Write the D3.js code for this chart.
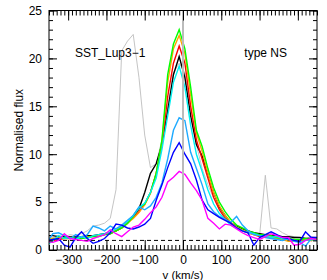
<!DOCTYPE html>
<html>
<head>
<meta charset="utf-8">
<script src="https://cdn.jsdelivr.net/npm/d3@7"></script>
<style>
  body { margin: 0; background: #fff; }
  svg text { font-family: "Liberation Sans", Arial, sans-serif; }
</style>
</head>
<body>
<div id="chart"></div>
<script>

// Velocity grid (km/s)
const velocity = [-355, -340, -325, -310, -295, -280, -265, -250, -235, -220, -205, -190,
    -175, -160, -145, -130, -115, -100, -85, -70, -55, -40, -25, -10, 5, 20, 35, 50,
    65, 80, 95, 110, 125, 140, 155, 170, 185, 200, 215, 230, 245, 260, 275, 290,
    305, 320, 335, 350];

// Normalised flux per profile
const grayFlux = [1.2, 1.3, 1.5, 1.4, 1.6, 1.5, 1.7, 2.0, 2.5, 2.6, 2.8, 3.3,
    6.3, 20.8, 21.8, 22.5, 18.0, 12.0, 8.6, 9.0, 11.5, 15.0, 18.5, 19.5, 18.5, 15.0, 11.0, 8.5,
    6.8, 5.4, 4.3, 3.4, 2.9, 2.5, 2.2, 2.0, 1.7, 1.5, 7.8, 2.3, 2.2, 1.8, 1.5, 1.4,
    1.3, 1.2, 1.4, 1.3];
const blackFlux = [1.5, 1.5, 1.4, 1.4, 1.4, 1.4, 1.4, 1.5, 1.5, 1.6, 1.7, 1.8,
    2.0, 2.3, 2.8, 3.5, 4.3, 6.0, 8.0, 9.0, 11.0, 14.5, 18.3, 20.2, 18.0, 14.0, 11.0, 9.8,
    7.9, 6.0, 4.5, 3.6, 2.8, 2.5, 2.2, 2.0, 1.8, 1.7, 1.6, 1.5, 1.5, 1.4, 1.4, 1.3,
    1.3, 1.2, 1.2, 1.2];
const redFlux = [1.1, 1.0, 1.1, 1.2, 1.2, 1.3, 1.3, 1.3, 1.5, 1.5, 1.6, 1.7,
    2.0, 2.4, 2.9, 3.4, 4.0, 4.8, 6.0, 8.0, 11.0, 16.0, 19.5, 21.3, 19.5, 15.0, 11.5, 9.5,
    7.5, 5.5, 4.2, 3.3, 2.7, 2.3, 2.0, 1.8, 1.6, 1.4, 1.4, 1.3, 1.2, 1.2, 1.1, 1.1,
    1.0, 1.1, 1.0, 1.1];
const orangeFlux = [1.2, 1.2, 1.3, 1.2, 1.3, 1.3, 1.2, 1.4, 1.4, 1.5, 1.6, 1.8,
    2.0, 2.3, 2.8, 3.3, 3.9, 4.7, 5.9, 8.0, 11.3, 17.5, 21.0, 22.4, 20.5, 16.2, 12.2, 10.3,
    8.0, 6.0, 4.6, 3.6, 2.9, 2.4, 2.1, 1.8, 1.6, 1.5, 1.4, 1.3, 1.2, 1.1, 0.9, 0.9,
    1.0, 1.1, 1.0, 1.1];
const greenFlux = [1.0, 1.1, 1.2, 1.3, 1.2, 1.3, 1.2, 1.3, 1.4, 1.4, 1.6, 1.7,
    2.0, 2.3, 2.8, 3.5, 4.4, 4.8, 6.0, 8.0, 11.5, 18.3, 21.5, 23.0, 21.0, 17.0, 12.5, 10.8,
    8.5, 6.5, 5.0, 4.0, 3.2, 2.6, 2.3, 2.0, 1.8, 1.6, 1.6, 1.5, 1.3, 1.2, 1.2, 1.1,
    1.1, 1.2, 1.1, 1.2];
const cyanFlux = [0.5, 1.0, 1.5, 1.2, 1.3, 1.1, 1.4, 1.2, 1.5, 1.6, 1.7, 1.9,
    2.2, 2.5, 3.0, 3.6, 4.4, 4.9, 6.0, 7.5, 10.5, 14.0, 17.5, 19.2, 17.0, 13.0, 10.0, 8.2,
    6.3, 4.8, 3.8, 3.2, 2.6, 2.3, 2.0, 1.8, 1.7, 1.5, 1.5, 1.3, 1.4, 1.2, 1.1, 1.0,
    0.8, 1.0, 1.1, 1.0];
const skyFlux = [0.8, 1.7, 1.8, 1.5, 1.2, 1.6, 1.3, 1.6, 2.5, 2.3, 2.0, 2.5,
    2.2, 2.6, 3.1, 3.6, 4.5, 4.2, 4.6, 5.5, 7.0, 9.5, 12.5, 13.8, 13.5, 10.2, 8.5, 6.8,
    4.8, 4.0, 3.5, 3.2, 2.9, 3.5, 2.6, 2.0, 1.6, 1.5, 1.3, 1.2, 1.1, 1.0, 1.2, 0.9,
    0.8, 0.4, 1.2, 1.0];
const blueFlux = [1.0, 1.1, 1.2, 0.5, 0.3, 1.3, 1.9, 1.2, 0.7, 0.9, 1.2, 1.8,
    2.7, 2.6, 2.3, 2.2, 2.4, 2.7, 3.3, 5.2, 6.8, 8.6, 10.2, 11.2, 10.0, 9.0, 7.3, 5.2,
    4.2, 3.8, 3.4, 3.1, 2.8, 2.3, 2.0, 1.8, 0.5, 1.3, 1.6, 1.9, 1.6, 1.3, 1.2, 1.0,
    0.9, 1.9, 1.3, 1.3];
const magentaFlux = [0.9, 0.8, 1.0, 1.7, 1.2, 1.1, 1.0, 0.9, 1.2, 1.4, 1.6, 2.1,
    1.7, 1.4, 1.9, 2.4, 2.6, 3.2, 3.9, 4.5, 5.5, 7.1, 7.6, 8.2, 7.9, 7.0, 6.2, 5.2,
    3.3, 2.8, 2.2, 2.7, 2.6, 2.2, 1.8, 1.5, 1.3, 1.1, 1.4, 1.7, 1.5, 1.3, 1.3, 0.5,
    0.6, 1.0, 1.2, 1.1];

const profiles = [
    {name: 'black',   color: '#000000', flux: blackFlux},
    {name: 'red',     color: '#ff0000', flux: redFlux},
    {name: 'orange',  color: '#ffa500', flux: orangeFlux},
    {name: 'green',   color: '#00ff00', flux: greenFlux},
    {name: 'cyan',    color: '#00f0f0', flux: cyanFlux},
    {name: 'sky',     color: '#1eaaff', flux: skyFlux},
    {name: 'blue',    color: '#0000ff', flux: blueFlux},
    {name: 'magenta', color: '#ff00ff', flux: magentaFlux}
];

const xMajorTicks = [-300, -200, -100, 0, 100, 200, 300];
const yMajorTicks = [0, 5, 10, 15, 20, 25];
const baseline = 1;
const objectName = 'SST_Lup3\u22121';
const typeLabel = 'type NS';

const width = 327, height = 280;
const margin = {top: 10.5, right: 10, bottom: 30, left: 49};

const svg = d3.select('#chart')
    .append('svg')
        .attr('width', width)
        .attr('height', height);

const x = d3.scaleLinear()
    .domain([-350, 350])
    .range([margin.left, width - margin.right]);

const y = d3.scaleLinear()
    .domain([0, 25])
    .range([height - margin.bottom, margin.top]);

const line = d3.line()
    .x((d, i) => x(velocity[i]))
    .y(d => y(d));

const plot = svg.append('g');

// clip to the frame
svg.append('clipPath').attr('id', 'clip')
    .append('rect')
        .attr('x', x(-350)).attr('y', y(25))
        .attr('width', x(350) - x(-350)).attr('height', y(0) - y(25));
plot.attr('clip-path', 'url(#clip)');

// Gray comparison profile
plot.append('path')
    .attr('d', line(grayFlux))
    .attr('fill', 'none')
    .attr('stroke', '#bdbdbd')
    .attr('stroke-width', 0.9);

// Baseline at flux = 1
plot.append('line')
    .attr('x1', x(-350)).attr('x2', x(350))
    .attr('y1', y(baseline)).attr('y2', y(baseline))
    .attr('stroke', '#000')
    .attr('stroke-width', 1)
    .attr('stroke-dasharray', '4,3');

plot.selectAll('path.profile')
    .data(profiles)
    .enter().append('path')
        .attr('class', 'profile')
        .attr('d', d => line(d.flux))
        .attr('fill', 'none')
        .attr('stroke', d => d.color)
        .attr('stroke-width', 1.4)
        .attr('stroke-linejoin', 'miter');

// Zero velocity line
plot.append('line')
    .attr('x1', x(0)).attr('x2', x(0))
    .attr('y1', y(0)).attr('y2', y(25))
    .attr('stroke', '#bbbbbb')
    .attr('stroke-width', 2);

// Axes: ticks point inward
const xMinor = d3.range(-350, 351, 10);
const yMinor = d3.range(0, 26, 1);

function noDomain(g) { g.select('.domain').remove(); }

svg.append('g')
    .attr('transform', 'translate(0,' + y(0) + ')')
    .call(d3.axisBottom(x).tickValues(xMinor).tickSize(-5).tickFormat(''))
    .call(noDomain);
svg.append('g')
    .attr('class', 'x axis')
    .attr('transform', 'translate(0,' + y(0) + ')')
    .call(d3.axisBottom(x).tickValues(xMajorTicks).tickSize(-10).tickPadding(5.5))
    .call(noDomain);
svg.append('g')
    .attr('transform', 'translate(0,' + y(25) + ')')
    .call(d3.axisTop(x).tickValues(xMinor).tickSize(-5).tickFormat(''))
    .call(noDomain);
svg.append('g')
    .attr('transform', 'translate(0,' + y(25) + ')')
    .call(d3.axisTop(x).tickValues(xMajorTicks).tickSize(-10).tickFormat(''))
    .call(noDomain);

svg.append('g')
    .attr('transform', 'translate(' + x(-350) + ',0)')
    .call(d3.axisLeft(y).tickValues(yMinor).tickSize(-4).tickFormat(''))
    .call(noDomain);
svg.append('g')
    .attr('class', 'y axis')
    .attr('transform', 'translate(' + x(-350) + ',0)')
    .call(d3.axisLeft(y).tickValues(yMajorTicks).tickSize(-8).tickPadding(7))
    .call(noDomain);
svg.append('g')
    .attr('transform', 'translate(' + x(350) + ',0)')
    .call(d3.axisRight(y).tickValues(yMinor).tickSize(-4).tickFormat(''))
    .call(noDomain);
svg.append('g')
    .attr('transform', 'translate(' + x(350) + ',0)')
    .call(d3.axisRight(y).tickValues(yMajorTicks).tickSize(-8).tickFormat(''))
    .call(noDomain);

svg.selectAll('.tick line').attr('stroke', '#000').attr('stroke-width', 1);
svg.selectAll('.axis text')
    .attr('fill', '#000')
    .style('font-size', '12px');

// Frame
svg.append('rect')
    .attr('x', x(-350)).attr('y', y(25))
    .attr('width', x(350) - x(-350)).attr('height', y(0) - y(25))
    .attr('fill', 'none')
    .attr('stroke', '#000')
    .attr('stroke-width', 1);

// Labels
svg.append('text')
    .attr('x', x(0)).attr('y', 278.5)
    .attr('text-anchor', 'middle')
    .style('font-size', '11.5px')
    .text('v (km/s)');

svg.append('text')
    .attr('transform', 'translate(23,' + (y(0) + y(25)) / 2 + ') rotate(-90)')
    .attr('text-anchor', 'middle')
    .style('font-size', '12px')
    .text('Normalised flux');

svg.append('text')
    .attr('x', 75).attr('y', 57)
    .style('font-size', '12px')
    .text(objectName);

svg.append('text')
    .attr('x', 287).attr('y', 57)
    .attr('text-anchor', 'end')
    .style('font-size', '12px')
    .text(typeLabel);

</script>
</body>
</html>
